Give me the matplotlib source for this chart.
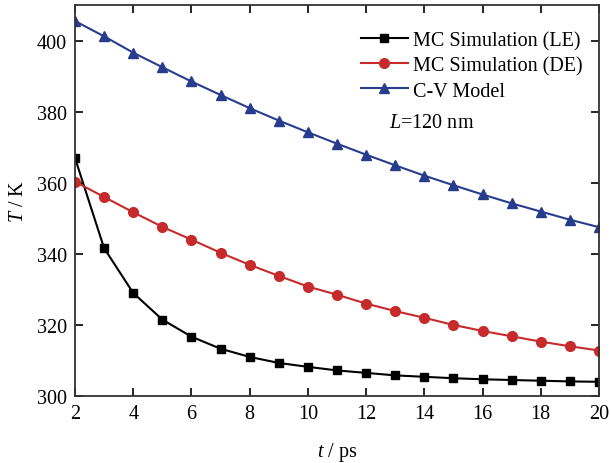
import matplotlib
matplotlib.use('Agg')
import matplotlib.pyplot as plt

# 时间 (ps)
t = list(range(2, 21))
# 三条温度曲线 (K)
T_le = [367.0, 341.6, 329.0, 321.5, 316.7, 313.3, 311.0, 309.3, 308.2, 307.2,
        306.5, 305.8, 305.4, 305.0, 304.7, 304.5, 304.3, 304.1, 304.0]
T_de = [360.3, 356.0, 351.7, 347.6, 344.0, 340.3, 336.9, 333.8, 330.8, 328.5,
        326.0, 323.9, 322.0, 320.0, 318.3, 316.8, 315.3, 314.0, 312.8]
T_cv = [405.5, 401.2, 396.6, 392.5, 388.5, 384.7, 381.0, 377.5, 374.2, 371.0,
        367.9, 364.9, 362.0, 359.3, 356.7, 354.2, 351.9, 349.6, 347.5]
labels = ['MC Simulation (LE)', 'MC Simulation (DE)', 'C-V Model']
x_ticks = [2, 4, 6, 8, 10, 12, 14, 16, 18, 20]
y_ticks = [300, 320, 340, 360, 380, 400]

plt.rcParams['font.family'] = ['Liberation Serif', 'DejaVu Serif']
plt.rcParams['mathtext.fontset'] = 'custom'
plt.rcParams['mathtext.it'] = 'Liberation Serif:italic'
plt.rcParams['mathtext.rm'] = 'Liberation Serif'

fig = plt.figure(figsize=(6.11, 4.64), dpi=100)
ax = fig.add_axes([0.1227, 0.1444, 0.8576, 0.8426])

ax.plot(t, T_le, '-s', color='black', lw=1.5, ms=6, label=labels[0])
ax.plot(t, T_de, '-o', color='#c62a2a', lw=1.5, ms=7, label=labels[1])
ax.plot(t, T_cv, '-^', color='#283c8e', lw=1.5, ms=7, label=labels[2])

ax.set_xlim(2, 20)
ax.set_ylim(300, 410)
ax.set_xticks(x_ticks)
ax.set_yticks(y_ticks)
ax.tick_params(direction='in', top=True, right=True, labeltop=False, labelright=False,
               labelsize=14.5, length=6, width=1.2, pad=6)
for s in ax.spines.values():
    s.set_linewidth(1.3)
    s.set_color('#333333')

ax.set_xlabel('$t$ / ps', fontsize=14.5, labelpad=12)
ax.set_ylabel('$T$ / K', fontsize=14.5, labelpad=6)

ax.legend(loc='upper right', frameon=False, fontsize=14.5, handlelength=2.3,
          handletextpad=0.25, labelspacing=0.3, borderaxespad=0.3,
          bbox_to_anchor=(0.995, 0.97))
ax.text(12.8, 377, '$L$=120 nm', fontsize=14.5, ha='left', va='center')

fig.savefig('out.png', dpi=100)
